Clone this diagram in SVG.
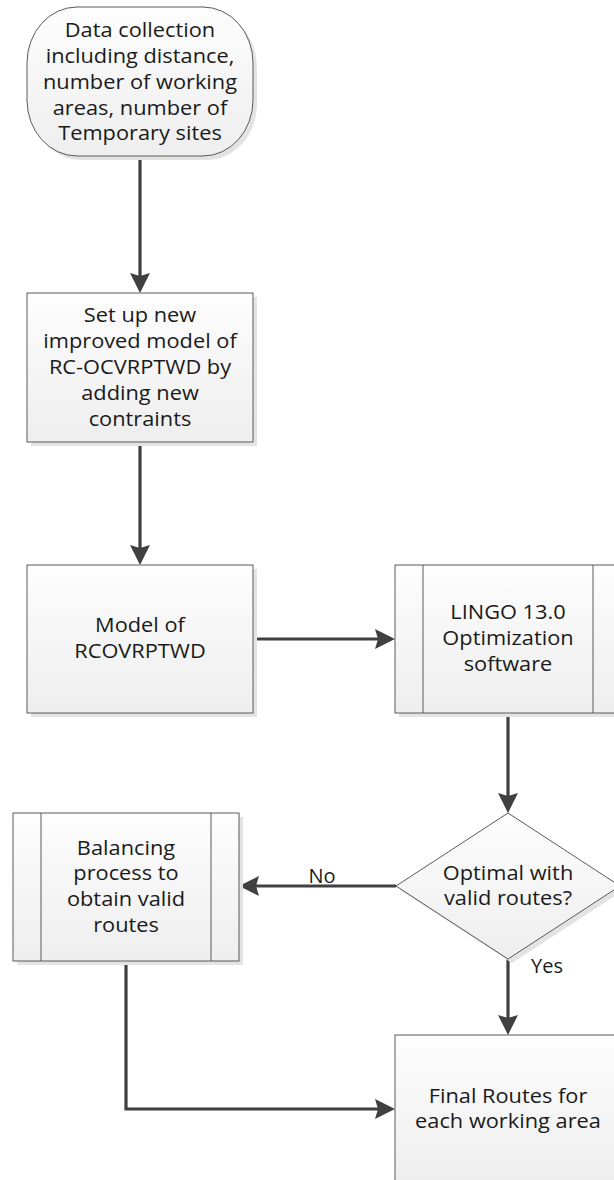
<svg xmlns="http://www.w3.org/2000/svg" width="614" height="1180" viewBox="0 0 614 1180">
<defs>
<linearGradient id="fillg" x1="0" y1="0" x2="0" y2="1">
<stop offset="0" stop-color="#fdfdfd"/>
<stop offset="1" stop-color="#eeeeee"/>
</linearGradient>
<marker id="arr" viewBox="0 0 20 20" refX="16" refY="10" markerWidth="20" markerHeight="20" markerUnits="userSpaceOnUse" orient="auto">
<path d="M0,0 L20,10 L0,20 L3,10 z" fill="#404040"/>
</marker>
</defs>
<style>
.shape{fill:url(#fillg);stroke:#5a5a5a;stroke-width:1}
.shadow{fill:#e3e3e3;stroke:none}
.inner{stroke:#5a5a5a;stroke-width:1;fill:none}
.conn{fill:none;stroke:#404040;stroke-width:3.2;marker-end:url(#arr)}
.lbl text{font-family:"Open Sans","Noto Sans",sans-serif;font-size:20px;fill:#1a1a1a;text-anchor:middle}
.elbl{font-family:"Open Sans","Noto Sans",sans-serif;font-size:20px;fill:#1a1a1a}
</style>
<rect width="614" height="1180" fill="#ffffff"/>
<g id="connectors">
<path class="conn" d="M140,156 V289"/>
<path class="conn" d="M140,442 V561"/>
<path class="conn" d="M253,639 H391"/>
<path class="conn" d="M508,713 V809"/>
<path class="conn" d="M396,886 H243"/>
<path class="conn" d="M126,961 V1109 H391"/>
<path class="conn" d="M508,959 V1031"/>
<text class="elbl" x="322" y="883" text-anchor="middle">No</text>
<text class="elbl" x="531" y="973">Yes</text>
</g>
<g id="start">
<rect class="shadow" x="31" y="11" width="226" height="149" rx="50" ry="56"/>
<rect class="shape" x="27" y="7" width="226" height="149" rx="50" ry="56"/>
<g class="lbl" transform="translate(140,0) scale(1.09,1)">
<text x="0" y="37.5">Data collection</text>
<text x="0" y="63.3">including distance,</text>
<text x="0" y="89">number of working</text>
<text x="0" y="114.8">areas, number of</text>
<text x="0" y="140.5">Temporary sites</text>
</g>
</g>
<g id="setup">
<rect class="shadow" x="31" y="297" width="226" height="149"/>
<rect class="shape" x="27" y="293" width="226" height="149"/>
<g class="lbl" transform="translate(140,0) scale(1.09,1)">
<text x="0" y="322">Set up new</text>
<text x="0" y="348">improved model of</text>
<text x="0" y="374">RC-OCVRPTWD by</text>
<text x="0" y="400">adding new</text>
<text x="0" y="426">contraints</text>
</g>
</g>
<g id="model">
<rect class="shadow" x="31" y="569" width="226" height="148"/>
<rect class="shape" x="27" y="565" width="226" height="148"/>
<g class="lbl" transform="translate(140,0) scale(1.09,1)">
<text x="0" y="632">Model of</text>
<text x="0" y="658">RCOVRPTWD</text>
</g>
</g>
<g id="lingo">
<rect class="shadow" x="399" y="569" width="226" height="148"/>
<rect class="shape" x="395" y="565" width="226" height="148"/>
<line class="inner" x1="423" y1="565" x2="423" y2="713"/>
<line class="inner" x1="593" y1="565" x2="593" y2="713"/>
<g class="lbl" transform="translate(508,0) scale(1.09,1)">
<text x="0" y="619">LINGO 13.0</text>
<text x="0" y="645">Optimization</text>
<text x="0" y="671">software</text>
</g>
</g>
<g id="decision">
<polygon class="shadow" points="512,817 624,890 512,963 400,890"/>
<polygon class="shape" points="508,813 620,886 508,959 396,886"/>
<g class="lbl" transform="translate(508,0) scale(1.09,1)">
<text x="0" y="880">Optimal with</text>
<text x="0" y="905">valid routes?</text>
</g>
</g>
<g id="balancing">
<rect class="shadow" x="17" y="817" width="226" height="148"/>
<rect class="shape" x="13" y="813" width="226" height="148"/>
<line class="inner" x1="41" y1="813" x2="41" y2="961"/>
<line class="inner" x1="211" y1="813" x2="211" y2="961"/>
<g class="lbl" transform="translate(126,0) scale(1.09,1)">
<text x="0" y="855">Balancing</text>
<text x="0" y="880">process to</text>
<text x="0" y="906">obtain valid</text>
<text x="0" y="932">routes</text>
</g>
</g>
<g id="final">
<rect class="shadow" x="399" y="1039" width="226" height="148"/>
<rect class="shape" x="395" y="1035" width="226" height="148"/>
<g class="lbl" transform="translate(508,0) scale(1.09,1)">
<text x="0" y="1103">Final Routes for</text>
<text x="0" y="1128">each working area</text>
</g>
</g>
</svg>
